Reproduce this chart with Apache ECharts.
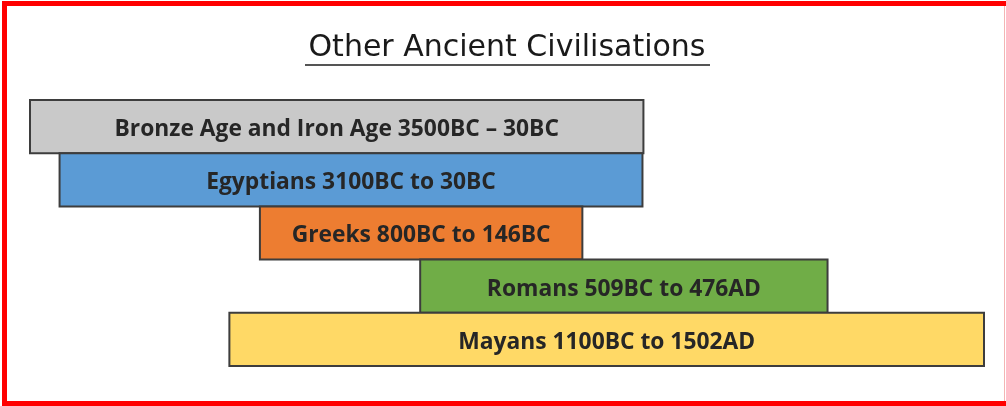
<!DOCTYPE html>
<html>
<head>
<meta charset="utf-8">
<script src="https://cdn.jsdelivr.net/npm/echarts@6/dist/echarts.min.js"></script>
<style>
html,body{margin:0;padding:0;background:#fff;}
#chart{width:1006px;height:406px;}
</style>
</head>
<body>
<div id="chart"></div>
<script>
// Civilisations (top to bottom)
const categories = ['Bronze Age and Iron Age', 'Egyptians', 'Greeks', 'Romans', 'Mayans'];
const barLabels = [
  'Bronze Age and Iron Age 3500BC \u2013 30BC',
  'Egyptians 3100BC to 30BC',
  'Greeks 800BC to 146BC',
  'Romans 509BC to 476AD',
  'Mayans 1100BC to 1502AD'
];
// schematic (not-to-scale) timeline positions, 0..100
const startValues = [0, 3.1, 24.1, 40.9, 20.9];
const endValues = [64.3, 64.2, 57.9, 83.6, 100];
const barColors = ['#c9c9c9', '#5b9bd5', '#ed7d31', '#70ad47', '#ffd966'];
const titleText = 'Other Ancient Civilisations';

const chart = echarts.init(document.getElementById('chart'), null, {renderer: 'canvas'});

const option = {
  backgroundColor: '#ffffff',
  animation: false,
  grid: {left: 30, right: 22, top: 100, height: 266, containLabel: false},
  xAxis: {type: 'value', min: 0, max: 100, show: false},
  yAxis: {type: 'category', data: categories, inverse: true, show: false},
  series: [
    {
      type: 'custom',
      renderItem: function (params, api) {
        const idx = api.value(0);
        const s = api.coord([api.value(1), idx]);
        const e = api.coord([api.value(2), idx]);
        const h = api.size([0, 1])[1];
        return {
          type: 'group',
          children: [
            {
              type: 'rect',
              shape: {x: s[0], y: s[1] - h / 2, width: e[0] - s[0], height: h},
              style: {fill: barColors[idx], stroke: '#3d3d3d', lineWidth: 2}
            },
            {
              type: 'text',
              style: {
                text: barLabels[idx],
                x: (s[0] + e[0]) / 2,
                y: s[1] + 3,
                align: 'center',
                verticalAlign: 'middle',
                fill: '#262626',
                font: 'bold 22.8px "Open Sans", sans-serif'
              }
            }
          ]
        };
      },
      encode: {x: [1, 2], y: 0},
      data: categories.map((c, i) => [i, startValues[i], endValues[i]])
    }
  ],
  graphic: [
    {
      type: 'text',
      style: {
        text: titleText,
        x: 507,
        y: 48,
        align: 'center',
        verticalAlign: 'middle',
        fill: '#1a1a1a',
        font: 'normal 30px "DejaVu Sans", sans-serif'
      }
    },
    {
      type: 'line',
      shape: {x1: 305, y1: 65, x2: 710, y2: 65},
      style: {stroke: '#555555', lineWidth: 2}
    },
    {
      type: 'rect',
      shape: {x: 4.5, y: 3.5, width: 1004, height: 400},
      style: {fill: 'none', stroke: '#ff0000', lineWidth: 5}
    },
    {
      type: 'line',
      shape: {x1: 1004.5, y1: 6, x2: 1004.5, y2: 401},
      style: {stroke: '#f4b4b4', lineWidth: 1}
    }
  ]
};
chart.setOption(option);
</script>
</body>
</html>
